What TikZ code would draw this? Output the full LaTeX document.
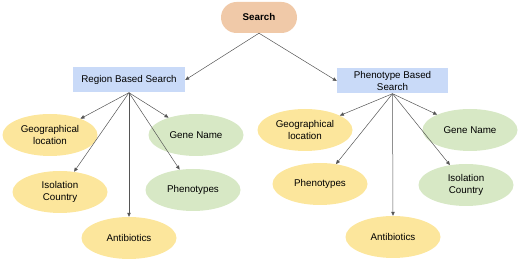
\documentclass[tikz,border=0pt]{standalone}
\usepackage{fontspec}
\setmainfont{Liberation Sans}
\definecolor{searchPeach}{RGB}{240,201,168}
\definecolor{typeBlue}{RGB}{201,218,248}
\definecolor{fieldYellow}{RGB}{252,230,156}
\definecolor{fieldGreen}{RGB}{215,232,197}
\definecolor{linkGray}{RGB}{85,85,85}
\usetikzlibrary{arrows.meta,positioning,shapes.geometric,shapes.misc,calc}

\begin{document}
\begin{tikzpicture}[
  x=1pt, y=-1pt,
  every node/.style={font=\fontsize{9.8}{12}\selectfont, align=center, inner sep=1pt},
  pill/.style={rounded rectangle, fill=searchPeach, minimum width=78pt, minimum height=31pt,
               font=\fontsize{9.8}{12}\selectfont\bfseries},
  typebox/.style={rectangle, fill=typeBlue, minimum width=112pt, minimum height=25pt},
  field/.style={ellipse, minimum width=95pt, minimum height=42pt},
  yfield/.style={field, fill=fieldYellow},
  gfield/.style={field, fill=fieldGreen},
  link/.style={draw=linkGray, line width=0.5pt, -{Triangle[length=4pt,width=3.5pt]}}
]
  \useasboundingbox (0,0) rectangle (520,261);

  \node[pill] (search) at (259,17.5) {Search};

  \node[typebox] (region) at (129,80) {Region Based Search};
  \node[typebox, minimum width=111pt] (pheno) at (392.5,81) {Phenotype Based\\Search};

  % region based branch
  \node[yfield] (rgeo)  at (50,135)  {Geographical\\location};
  \node[gfield] (rgene) at (196,135) {Gene Name};
  \node[yfield] (riso)  at (60,192)  {Isolation\\Country};
  \node[gfield] (rphen) at (193,190) {Phenotypes};
  \node[yfield] (ranti) at (129,238) {Antibiotics};

  % phenotype based branch
  \node[yfield] (pgeo)  at (305,130) {Geographical\\location};
  \node[gfield] (pgene) at (470,130) {Gene Name};
  \node[yfield] (pphen) at (320,184) {Phenotypes};
  \node[gfield] (piso)  at (466,185) {Isolation\\Country};
  \node[yfield] (panti) at (393,237) {Antibiotics};

  \draw[link] (search.south) -- (region.east);
  \draw[link] (search.south) -- (pheno.west);

  \foreach \n in {rgeo,rgene,riso,rphen}
    \draw[link] (region.south) -- (\n);
  \draw[link] (region.south) -- (ranti.north);

  \foreach \n in {pgeo,pgene,pphen,piso}
    \draw[link] (pheno.south) -- (\n);
  \draw[link] (pheno.south) -- (panti.north);
\end{tikzpicture}
\end{document}
